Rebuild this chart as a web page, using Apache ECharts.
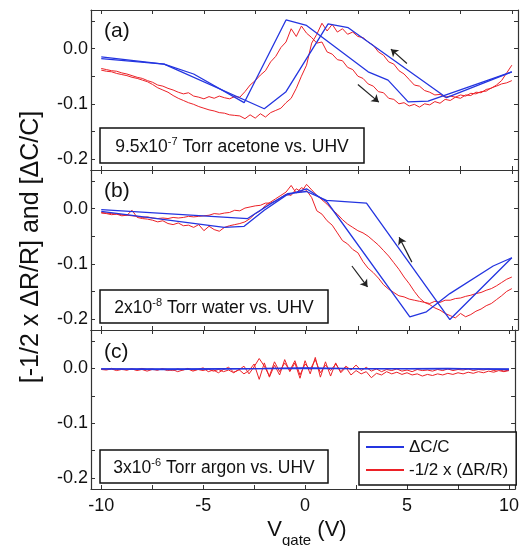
<!DOCTYPE html>
<html>
<head>
<meta charset="utf-8">
<script src="https://cdn.jsdelivr.net/npm/echarts@6.0.0/dist/echarts.min.js"></script>
<style>
  html, body { margin: 0; padding: 0; background: #fff; }
  #chart { width: 522px; height: 546px; }
</style>
</head>
<body>
<div id="chart"></div>
<script>
// Gate-voltage sweep grid for the resistance traces (forward sweep order)
const V_SWEEP = [-10, -9.75, -9.5, -9.25, -9, -8.75, -8.5, -8.25, -8, -7.75,
  -7.5, -7.25, -7, -6.75, -6.5, -6.25, -6, -5.75, -5.5, -5.25,
  -5, -4.75, -4.5, -4.25, -4, -3.75, -3.5, -3.25, -3, -2.75,
  -2.5, -2.25, -2, -1.75, -1.5, -1.25, -1, -0.75, -0.5, -0.25,
  0, 0.25, 0.5, 0.75, 1, 1.25, 1.5, 1.75, 2, 2.25,
  2.5, 2.75, 3, 3.25, 3.5, 3.75, 4, 4.25, 4.5, 4.75,
  5, 5.25, 5.5, 5.75, 6, 6.25, 6.5, 6.75, 7, 7.25,
  7.5, 7.75, 8, 8.25, 8.5, 8.75, 9, 9.25, 9.5, 9.75, 10];

// (a) acetone: -1/2 x dR/R, forward sweep (-10 -> 10)
const RED_A_FWD = [-0.036, -0.038, -0.040, -0.041, -0.044, -0.046, -0.049, -0.052, -0.054, -0.058,
  -0.061, -0.066, -0.068, -0.072, -0.075, -0.079, -0.082, -0.080, -0.086, -0.088,
  -0.091, -0.087, -0.090, -0.086, -0.089, -0.091, -0.087, -0.088, -0.078, -0.066,
  -0.058, -0.048, -0.040, -0.024, -0.014, 0.002, 0.012, 0.036, 0.022, 0.041,
  0.028, 0.020, 0.010, 0.012, -0.006, -0.010, -0.020, -0.022, -0.034, -0.038,
  -0.050, -0.054, -0.064, -0.068, -0.078, -0.080, -0.090, -0.092, -0.100, -0.098,
  -0.104, -0.101, -0.106, -0.100, -0.102, -0.096, -0.099, -0.092, -0.094, -0.088,
  -0.090, -0.084, -0.085, -0.079, -0.080, -0.074, -0.072, -0.066, -0.058, -0.044,
  -0.030];
// (a) acetone: backward sweep (10 -> -10)
const RED_A_BWD = [-0.058, -0.062, -0.064, -0.068, -0.071, -0.077, -0.078, -0.082, -0.081, -0.086,
  -0.084, -0.088, -0.086, -0.088, -0.083, -0.084, -0.079, -0.076, -0.068, -0.066,
  -0.056, -0.046, -0.040, -0.028, -0.024, -0.012, -0.006, 0.006, 0.012, 0.020,
  0.022, 0.030, 0.026, 0.036, 0.030, 0.044, 0.032, 0.046, 0.026, 0.010,
  -0.030, -0.050, -0.072, -0.090, -0.098, -0.108, -0.112, -0.116, -0.124, -0.118,
  -0.126, -0.120, -0.127, -0.122, -0.121, -0.120, -0.117, -0.116, -0.113, -0.111,
  -0.108, -0.105, -0.101, -0.098, -0.094, -0.090, -0.085, -0.079, -0.075, -0.071,
  -0.065, -0.060, -0.057, -0.054, -0.052, -0.049, -0.047, -0.045, -0.042, -0.041,
  -0.039];
// (a) acetone: dC/C measured points
const BLUE_A_FWD_V = [-10, -6.94, -5.5, -3.04, -1.0, 0, 3.0, 3.97, 4.95, 5.92, 10];
const BLUE_A_FWD_Y = [-0.015, -0.028, -0.046, -0.098, 0.052, 0.042, -0.042, -0.057, -0.0965, -0.095, -0.042];
const BLUE_A_BWD_V = [10, 6.82, 2.03, 1.05, -1.0, -2.06, -6.94, -10];
const BLUE_A_BWD_Y = [-0.042, -0.089, 0.038, 0.045, -0.078, -0.109, -0.028, -0.018];

// (b) water: -1/2 x dR/R
const RED_B_FWD = [-0.008, -0.009, -0.011, -0.010, -0.013, -0.012, -0.003, -0.016, -0.018, -0.019,
  -0.021, -0.024, -0.022, -0.027, -0.029, -0.026, -0.031, -0.030, -0.034, -0.029,
  -0.040, -0.032, -0.038, -0.041, -0.034, -0.031, -0.029, -0.027, -0.024, -0.018,
  -0.009, -0.004, 0.006, 0.012, 0.018, 0.024, 0.030, 0.042, 0.028, 0.038,
  0.033, 0.020, -0.004, -0.010, -0.022, -0.030, -0.044, -0.058, -0.064, -0.074,
  -0.080, -0.096, -0.108, -0.116, -0.126, -0.138, -0.146, -0.152, -0.158, -0.160,
  -0.164, -0.166, -0.168, -0.170, -0.172, -0.168, -0.170, -0.166, -0.166, -0.163,
  -0.162, -0.159, -0.157, -0.154, -0.152, -0.148, -0.145, -0.140, -0.134, -0.128,
  -0.124];
const RED_B_BWD = [-0.145, -0.150, -0.158, -0.165, -0.172, -0.176, -0.182, -0.186, -0.192, -0.196,
  -0.190, -0.198, -0.194, -0.190, -0.184, -0.180, -0.174, -0.170, -0.162, -0.150,
  -0.136, -0.124, -0.110, -0.098, -0.086, -0.076, -0.066, -0.058, -0.050, -0.044,
  -0.040, -0.034, -0.028, -0.020, -0.010, -0.002, 0.008, 0.016, 0.024, 0.034,
  0.044, 0.030, 0.036, 0.024, 0.026, 0.020, 0.014, 0.010, 0.010, 0.006,
  0.005, 0.003, 0.001, -0.004, -0.003, -0.007, -0.008, -0.010, -0.009, -0.012,
  -0.013, -0.014, -0.015, -0.014, -0.016, -0.017, -0.016, -0.018, -0.017, -0.018,
  -0.017, -0.015, -0.016, -0.014, -0.013, -0.012, -0.011, -0.010, -0.009, -0.008,
  -0.007];
const BLUE_B_FWD_V = [-10, -4.01, -3.04, -2.06, -1.0, 0, 1.0, 5.03, 5.84, 6.98, 9.09, 10];
const BLUE_B_FWD_Y = [-0.005, -0.034, -0.032, -0.003, 0.024, 0.036, 0.012, -0.196, -0.187, -0.154, -0.104, -0.089];
const BLUE_B_BWD_V = [10, 6.98, 2.92, 0.97, 0, -0.93, -1.74, -2.87, -10];
const BLUE_B_BWD_Y = [-0.089, -0.201, 0.010, 0.015, 0.031, 0.027, 0.009, -0.018, -0.002];

// (c) argon: -1/2 x dR/R
const RED_C_FWD = [-0.002, -0.003, -0.001, -0.004, -0.002, -0.003, -0.001, -0.004, -0.002, -0.005,
  -0.002, -0.003, -0.001, -0.004, -0.002, -0.006, -0.003, -0.001, -0.005, -0.002,
  0.001, -0.006, -0.003, -0.008, -0.002, 0.002, -0.007, -0.003, 0.004, -0.010,
  0.003, 0.018, 0.004, -0.014, 0.012, -0.006, 0.010, -0.004, 0.014, -0.012,
  0.008, -0.002, 0.016, -0.008, 0.006, -0.004, 0.008, -0.006, 0.004, -0.003,
  0.006, -0.004, 0.002, -0.005, -0.001, -0.006, -0.002, -0.004, -0.001, -0.005,
  -0.003, -0.006, -0.002, -0.004, -0.003, -0.005, -0.002, -0.004, -0.001, -0.004,
  -0.002, -0.003, -0.001, -0.004, -0.002, -0.003, -0.001, -0.004, -0.002, -0.005,
  -0.003];
const RED_C_BWD = [-0.004, -0.006, -0.004, -0.007, -0.005, -0.008, -0.006, -0.009, -0.007, -0.010,
  -0.008, -0.011, -0.009, -0.012, -0.010, -0.013, -0.011, -0.014, -0.010, -0.012,
  -0.008, -0.011, -0.007, -0.010, -0.006, -0.012, -0.009, -0.017, -0.006, -0.010,
  -0.004, -0.012, 0.002, -0.008, 0.010, -0.014, 0.012, -0.016, 0.020, -0.010,
  0.014, -0.018, 0.010, -0.006, 0.016, -0.012, 0.006, -0.016, 0.010, -0.020,
  0.008, -0.004, -0.010, -0.002, -0.008, -0.003, -0.006, -0.002, -0.005, -0.001,
  -0.004, -0.002, -0.003, 0.000, -0.003, -0.001, -0.004, -0.002, -0.001, -0.003,
  -0.001, -0.002, 0.000, -0.002, -0.001, -0.003, -0.001, -0.002, 0.000, -0.002,
  -0.001];
const BLUE_C_FWD_V = [-10, -6, -2, 0, 2, 6, 10];
const BLUE_C_FWD_Y = [-0.001, -0.001, 0.000, 0.001, 0.000, -0.001, -0.001];
const BLUE_C_BWD_V = [10, 7, 3, 0, -3, -7, -10];
const BLUE_C_BWD_Y = [-0.002, 0.000, -0.001, 0.000, -0.001, -0.002, -0.001];

// Sweep-direction arrows [[V0, y0], [V1, y1]] (tail -> head)
const ARROWS_A = [[[4.89, -0.027], [4.11, -0.001]], [[2.50, -0.065], [3.52, -0.097]]];
const ARROWS_B = [[[5.13, -0.097], [4.51, -0.052]], [[2.21, -0.104], [2.97, -0.142]]];

// Axis ticks and labels
const X_TICKS = [-10, -7.5, -5, -2.5, 0, 2.5, 5, 7.5, 10];
const X_LABELS = [-10, -5, 0, 5, 10];
const Y_TICKS = [0.05, 0, -0.05, -0.1, -0.15, -0.2];
const Y_LABELS = [0, -0.1, -0.2];

const NAME_C = 'ΔC/C';
const NAME_R = '-1/2 x (ΔR/R)';
const BOX_TEXTS = [
  ['9.5x10', '-7', ' Torr acetone vs. UHV'],
  ['2x10', '-8', ' Torr water vs. UHV'],
  ['3x10', '-6', ' Torr argon vs. UHV']
];
const PANEL_TAGS = ['(a)', '(b)', '(c)'];

const FONT = '"Liberation Sans", Arial, Helvetica, sans-serif';
const BLUE = '#2435e0';
const RED = '#ec2127';
const FRAME = '#333';

const V_BACK = V_SWEEP.slice().reverse();
const zip = (xs, ys) => xs.map((x, i) => [x, ys[i]]);

const panels = [
  { redF: RED_A_FWD, redB: RED_A_BWD, bF: [BLUE_A_FWD_V, BLUE_A_FWD_Y], bB: [BLUE_A_BWD_V, BLUE_A_BWD_Y], arrows: ARROWS_A },
  { redF: RED_B_FWD, redB: RED_B_BWD, bF: [BLUE_B_FWD_V, BLUE_B_FWD_Y], bB: [BLUE_B_BWD_V, BLUE_B_BWD_Y], arrows: ARROWS_B },
  { redF: RED_C_FWD, redB: RED_C_BWD, bF: [BLUE_C_FWD_V, BLUE_C_FWD_Y], bB: [BLUE_C_BWD_V, BLUE_C_BWD_Y], arrows: [] }
];

const GRID_LEFT = 91, GRID_W = 427;
const GRID_TOPS = [10, 170, 330];
const GRID_H = [160, 160, 159];

const grids = GRID_TOPS.map((t, i) => ({ left: GRID_LEFT, top: t, width: GRID_W, height: GRID_H[i] }));

function xAxisDef(g, pos, withLabels) {
  return {
    type: 'value', gridIndex: g, position: pos, min: -10.5, max: 10.3,
    splitLine: { show: false },
    axisLine: { show: true, onZero: false, lineStyle: { color: FRAME, width: 1.2 } },
    axisTick: { show: true, inside: true, length: 4, customValues: X_TICKS, lineStyle: { color: FRAME, width: 1 } },
    axisLabel: { show: withLabels, customValues: X_LABELS, margin: 8, fontSize: 18, fontFamily: FONT, color: '#111' }
  };
}
function yAxisDef(g, pos, withLabels) {
  return {
    type: 'value', gridIndex: g, position: pos, min: -0.22, max: 0.07,
    splitLine: { show: false },
    axisLine: { show: true, onZero: false, lineStyle: { color: FRAME, width: 1.2 } },
    axisTick: { show: true, inside: true, length: 4, customValues: Y_TICKS, lineStyle: { color: FRAME, width: 1 } },
    axisLabel: { show: withLabels, customValues: Y_LABELS, margin: 3, fontSize: 18, fontFamily: FONT, color: '#111',
      formatter: v => (Math.abs(v) < 1e-9 ? 0 : v).toFixed(1) }
  };
}

const xAxes = [], yAxes = [];
for (let g = 0; g < 3; g++) {
  xAxes.push(xAxisDef(g, 'bottom', g === 2), xAxisDef(g, 'top', false));
  yAxes.push(yAxisDef(g, 'left', true), yAxisDef(g, 'right', false));
}

const series = [];
panels.forEach((p, g) => {
  const ax = { xAxisIndex: g * 2, yAxisIndex: g * 2 };
  const redStyle = { color: RED, width: 1 };
  const blueStyle = { color: BLUE, width: 1.3 };
  const redFwd = {
    type: 'line', name: NAME_R, ...ax, data: zip(V_SWEEP, p.redF), symbol: 'none', color: RED,
    lineStyle: redStyle, z: 2, silent: true
  };
  if (p.arrows.length) {
    redFwd.markLine = {
      silent: true, symbol: ['none', 'arrow'], symbolSize: 7, animation: false,
      label: { show: false },
      lineStyle: { color: '#222', width: 1.2, type: 'solid' },
      data: p.arrows.map(a => [{ coord: a[0] }, { coord: a[1] }])
    };
  }
  series.push(redFwd);
  series.push({ type: 'line', name: NAME_R, ...ax, data: zip(V_BACK, p.redB), symbol: 'none', color: RED, lineStyle: redStyle, z: 2, silent: true });
  series.push({ type: 'line', name: NAME_C, ...ax, data: zip(p.bF[0], p.bF[1]), symbol: 'none', color: BLUE, lineStyle: blueStyle, z: 3, silent: true });
  series.push({ type: 'line', name: NAME_C, ...ax, data: zip(p.bB[0], p.bB[1]), symbol: 'none', color: BLUE, lineStyle: blueStyle, z: 3, silent: true });
});

// Condition boxes and panel tags
const BOX_GEOM = [[100, 128, 264, 35], [100, 290, 228, 33], [100, 450, 228, 33]];
const TAG_Y = [31, 191, 352];
const graphics = [];
BOX_GEOM.forEach((b, i) => {
  const [x, y, w, h] = b;
  const t = BOX_TEXTS[i];
  graphics.push({ type: 'rect', shape: { x, y, width: w, height: h }, style: { fill: '#fff', stroke: '#111', lineWidth: 1.5 }, z: 10 });
  graphics.push({
    type: 'text', x: x + w / 2, y: y + h / 2 + 1, z: 11,
    style: {
      text: '{m|' + t[0] + '}{s|' + t[1] + '}{m|' + t[2] + '}',
      rich: {
        m: { fontSize: 17.5, fontFamily: FONT, fill: '#111', lineHeight: 20, padding: [6, 0, 0, 0], verticalAlign: 'bottom' },
        s: { fontSize: 11, fontFamily: FONT, fill: '#111', lineHeight: 12, verticalAlign: 'top' }
      },
      align: 'center', verticalAlign: 'middle'
    }
  });
  graphics.push({
    type: 'text', x: 104, y: TAG_Y[i], z: 11,
    style: { text: PANEL_TAGS[i], font: '21px ' + FONT, fill: '#111', align: 'left', verticalAlign: 'middle' }
  });
});
// Axis titles
graphics.push({
  type: 'text', x: 31, y: 247, rotation: Math.PI / 2, z: 11,
  style: { text: '[-1/2 x ΔR/R] and [ΔC/C]', font: '25px ' + FONT, fill: '#111', align: 'center', verticalAlign: 'middle' }
});
graphics.push({
  type: 'text', x: 307, y: 531, z: 11,
  style: {
    text: '{v|V}{g|gate}{v| (V)}',
    rich: {
      v: { fontSize: 22, fontFamily: FONT, fill: '#111', lineHeight: 24, verticalAlign: 'top' },
      g: { fontSize: 15, fontFamily: FONT, fill: '#111', lineHeight: 16, padding: [14, 0, 0, 0], verticalAlign: 'top' }
    },
    align: 'center', verticalAlign: 'middle'
  }
});

const chart = echarts.init(document.getElementById('chart'), null, { renderer: 'canvas' });
chart.setOption({
  animation: false,
  backgroundColor: '#fff',
  grid: grids,
  xAxis: xAxes,
  yAxis: yAxes,
  legend: {
    data: [NAME_C, NAME_R],
    orient: 'vertical', left: 359, top: 432,
    padding: [5, 8, 5, 6], itemGap: 3, itemWidth: 38, itemHeight: 14,
    borderColor: '#111', borderWidth: 1.5, backgroundColor: '#fff',
    selectedMode: false, z: 12,
    itemStyle: { opacity: 0 },
    textStyle: { fontSize: 17, fontFamily: FONT, color: '#111', lineHeight: 20 }
  },
  series: series,
  graphic: graphics
});
</script>
</body>
</html>
